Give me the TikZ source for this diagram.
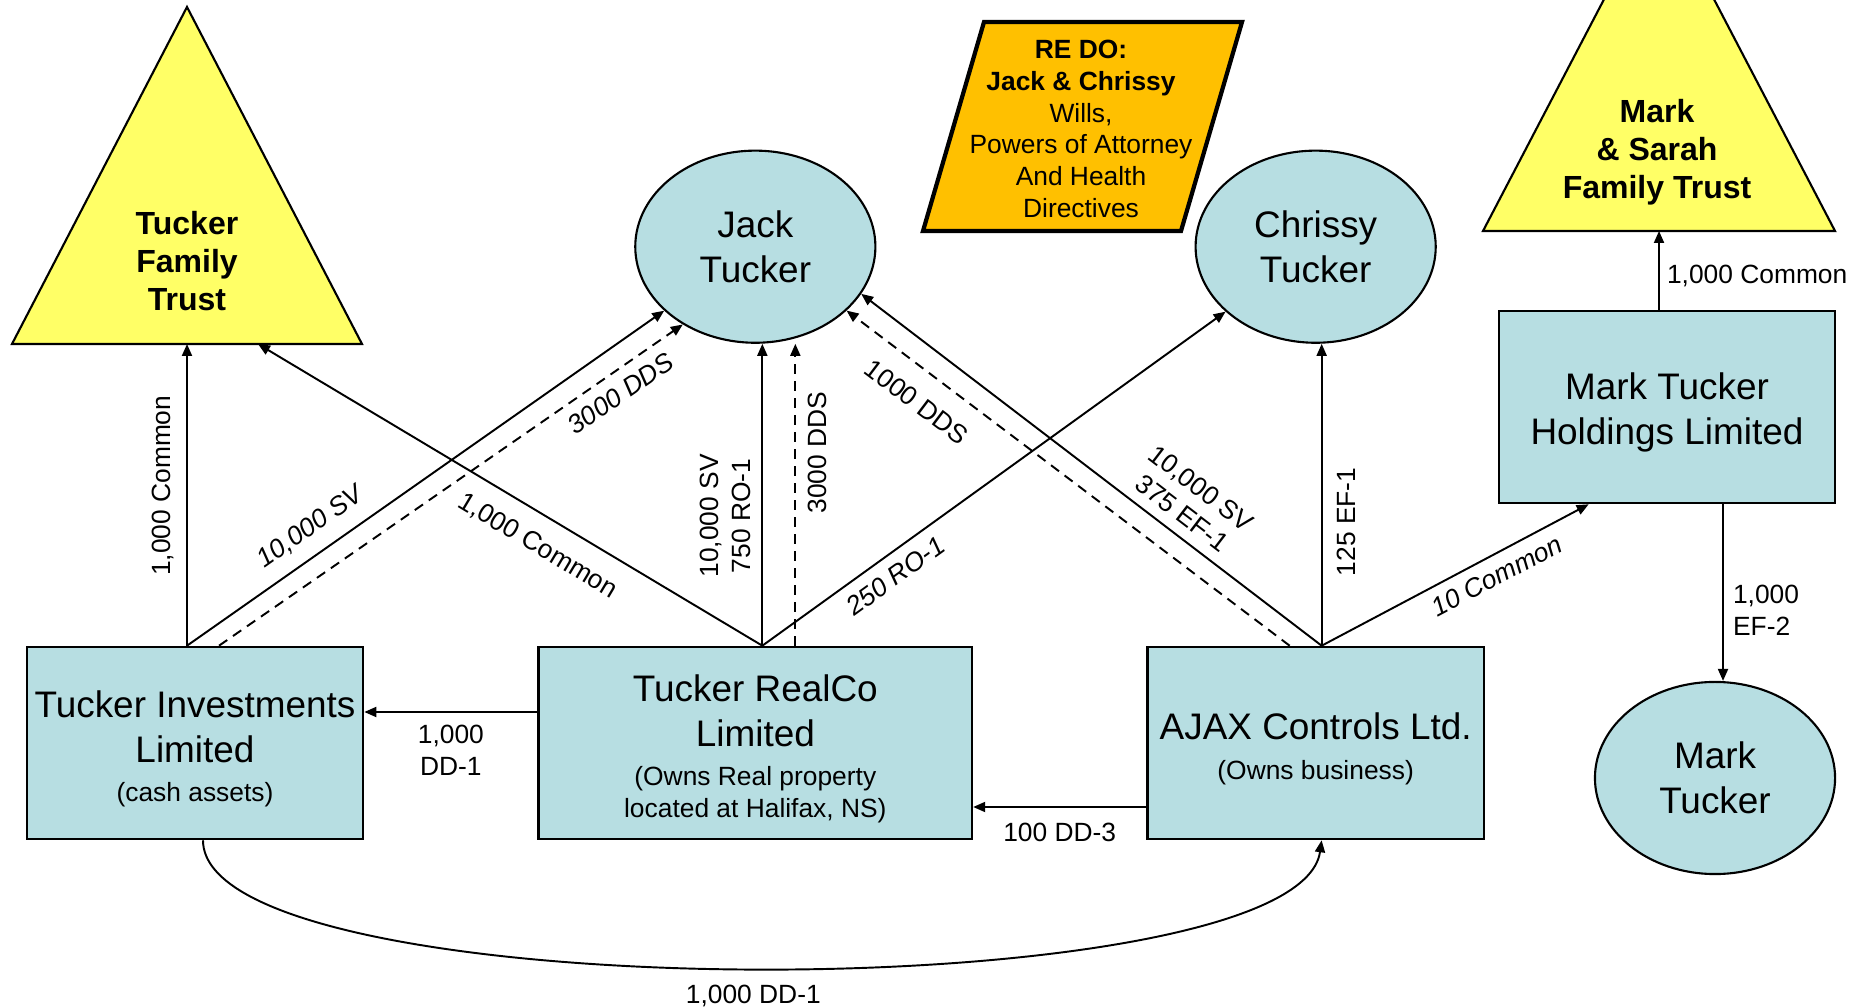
\documentclass[tikz,border=0pt]{standalone}
\usepackage{fontspec}
\setmainfont{Liberation Sans}
\usetikzlibrary{shapes.geometric, positioning, calc, arrows.meta}

\definecolor{entityblue}{HTML}{B7DEE2}
\definecolor{trustyellow}{HTML}{FFFF66}
\definecolor{noteorange}{HTML}{FFC000}

\newcommand{\namefont}{\fontsize{10.5}{12.8}\selectfont}
\newcommand{\sharefont}{\fontsize{7.5}{9}\selectfont}
\newcommand{\trustfont}{\fontsize{9.1}{10.8}\selectfont\bfseries}

\begin{document}
\begin{tikzpicture}[
    x=0.01cm, y=-0.01cm,
    node distance=5.6cm,
    on grid,
    >={Triangle[length=0.12cm, width=0.1cm]},
    company/.style={draw, line width=0.7pt, fill=entityblue, minimum width=3.36cm, minimum height=1.92cm, align=center, font=\namefont, inner sep=1pt},
    person/.style={ellipse, draw, line width=0.6pt, fill=entityblue, minimum width=2.4cm, minimum height=1.92cm, align=center, font=\namefont, inner sep=0pt},
    trust/.style={draw, line width=0.6pt, fill=trustyellow},
    trustname/.style={align=center, font=\trustfont},
    holding/.style={->, line width=0.55pt},
    dds/.style={->, line width=0.55pt, dash pattern=on 0.1cm off 0.07cm},
    share/.style={font=\sharefont, inner sep=2pt},
    tilted/.style={share, font=\sharefont\itshape}
]

   \useasboundingbox (0,0) rectangle (1858,1007);
   \clip (0,0) rectangle (1858,1007);

   % Trusts
   \coordinate (tftA) at (187,7);
   \coordinate (tftL) at (12,344);
   \coordinate (tftR) at (362,344);
   \coordinate (tftB) at (258,344);
   \draw[trust] (tftL) -- (tftA) -- (tftR) -- cycle;
   \node[trustname] (tft) at (187,261) {Tucker\\ Family\\ Trust};

   \coordinate (msftA) at (1659,-106);
   \coordinate (msftL) at (1483,231);
   \coordinate (msftR) at (1835,231);
   \draw[trust] (msftL) -- (msftA) -- (msftR) -- cycle;
   \node[trustname] (msft) at (1657,152) {Mark\\ \& Sarah\\ Family Trust};

   % Note
   \draw[line width=1.2pt, fill=noteorange] (923,231) -- (984,22) -- (1242,22) -- (1181,231) -- cycle;
   \node[align=center, font=\sharefont] (redo) at (1081,129) {\textbf{RE DO:}\\ \textbf{Jack \& Chrissy}\\ Wills,\\ Powers of Attorney\\ And Health\\ Directives};

   % Companies (the leading empty row pushes the text a little down)
   \node[company] (til) at (195,743) {\\[-1.7pt] Tucker Investments\\ Limited\\[-1.7pt] \sharefont (cash assets)};
   \node[company, minimum width=4.33cm] (rco) [right=of til] {\\[-1.7pt] Tucker RealCo\\ Limited\\[-1.7pt] \sharefont (Owns Real property\\[-3.7pt] \sharefont located at Halifax, NS)};
   \node[company] (aj) [right=of rco] {\\[-1.7pt] AJAX Controls Ltd.\\[-1.4pt] \sharefont (Owns business)};
   \node[company] (mth) at (1667,407) {\\[-2.3pt] Mark Tucker\\ Holdings Limited};

   % People
   \node[person] (jack) [above=4.96cm of rco] {Jack\\ Tucker};
   \node[person] (chr) [above=4.96cm of aj] {Chrissy\\ Tucker};
   \node[person] (mt) at (1715,778) {Mark\\ Tucker};

   % Where the share lines leave the companies
   \coordinate (tilS) at ($(til.north)+(-8,0)$);
   \coordinate (tilD) at ($(til.north)+(24,0)$);
   \coordinate (rcoS) at ($(rco.north)+(7,0)$);
   \coordinate (rcoD) at ($(rco.north)+(40,0)$);
   \coordinate (ajS) at ($(aj.north)+(6,0)$);
   \coordinate (ajD) at ($(aj.north)+(-26,0)$);
   \coordinate (mthU) at ($(mth.north)+(-8,0)$);
   \coordinate (mthD) at ($(mth.south)+(56,0)$);
   \coordinate (mthB) at ($(mth.south west)+(91,0)$);

   % Shares held by the trusts and people
   \draw[holding] (tilS) -- node[share, sloped, above, outer sep=0.06cm, pos=0.53] {1,000 Common} (tilS |- tftL);
   \draw[holding] (tilS) -- node[tilted, sloped, above, outer sep=0.08cm, pos=0.29] {10,000 SV} (jack);
   \draw[dds] (tilD) -- node[tilted, sloped, below, outer sep=0.05cm, pos=0.84] {3000 DDS} (jack.-133);

   \draw[holding] (rcoS) -- node[share, sloped, below, outer sep=0.12cm, pos=0.415] {1,000 Common} (tftB);
   \draw[holding] (rcoS) -- node[share, sloped, above, align=center, outer sep=0.05cm, pos=0.43] {10,000 SV\\ 750 RO-1} (rcoS |- jack.south);
   \draw[dds] (rcoD) -- node[share, sloped, below, outer sep=0.06cm, pos=0.64] {3000 DDS} (rcoD |- jack.south);
   \draw[holding] (rcoS) -- node[tilted, sloped, below, outer sep=0.05cm, pos=0.26] {250 RO-1} (chr);

   \draw[holding] (ajS) -- node[share, sloped, above, align=center, outer sep=0.04cm, pos=0.33] {10,000 SV\\ 375 EF-1} (jack.-24);
   \draw[dds] (ajD) -- node[share, sloped, below, outer sep=0.14cm, pos=0.8] {1000 DDS} (jack.-35);
   \draw[holding] (ajS) -- node[share, sloped, below, outer sep=0.08cm, pos=0.41] {125 EF-1} (ajS |- chr.south);
   \draw[holding] (ajS) -- node[tilted, sloped, below, outer sep=0.04cm, pos=0.62] {10 Common} (mthB);

   \draw[holding] (mthU) -- node[share, right, pos=0.43] {1,000 Common} (mthU |- msftL);
   \draw[holding] (mthD) -- node[share, right, align=left, outer sep=0.03cm, pos=0.6] {1,000\\ EF-2} (mthD |- mt.north);

   % Dividends
   \coordinate (rcoL) at ($(rco.west)+(0,-31)$);
   \coordinate (ajL) at ($(aj.west)+(0,64)$);
   \draw[holding] (rcoL) -- node[share, below, align=center, outer sep=0.06cm] {1,000\\ DD-1} (rcoL -| til.east);
   \draw[holding] (ajL) -- node[share, below, outer sep=0.09cm] {100 DD-3} (ajL -| rco.east);
   \draw[holding] ($(til.south)+(8,0)$) .. controls +(0,171) and +(-24,170) .. node[share, below, outer sep=0.1cm] {1,000 DD-1} ($(aj.south)+(6,0)$);

\end{tikzpicture}
\end{document}
